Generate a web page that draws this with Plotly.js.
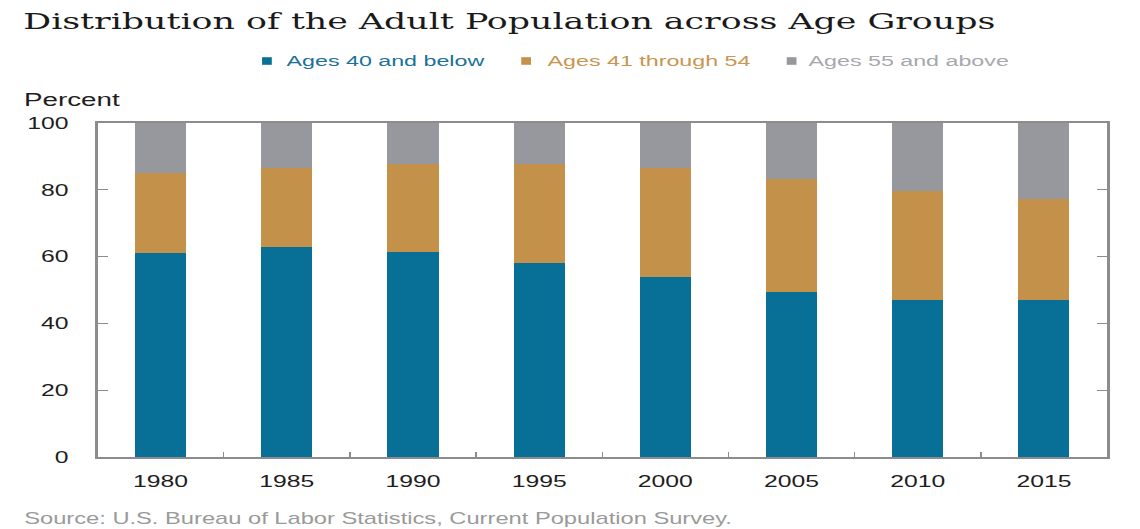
<!DOCTYPE html>
<html>
<head>
<meta charset="utf-8">
<script src="https://cdn.plot.ly/plotly-3.0.1.min.js"></script>
<style>
  html, body { margin: 0; padding: 0; background: #ffffff; overflow: hidden; }
  #wrap { width: 1140px; height: 529px; overflow: hidden; position: relative; background: #ffffff; }
  #chart { width: 760px; height: 529px; transform: scaleX(1.5); transform-origin: 0 0; }
</style>
</head>
<body>
<div id="wrap"><div id="chart"></div></div>
<script>
// ---- data ----
const years = ['1980', '1985', '1990', '1995', '2000', '2005', '2010', '2015'];
const ages40AndBelow = [61.0, 63.0, 61.5, 58.0, 53.8, 49.5, 47.0, 47.0];
const ages41To54 = [23.9, 23.6, 26.2, 29.7, 32.8, 33.7, 32.7, 30.2];
const ages55AndAbove = [15.1, 13.4, 12.3, 12.3, 13.4, 16.8, 20.3, 22.8];
const seriesNames = ['Ages 40 and below', 'Ages 41 through 54', 'Ages 55 and above'];
const yTicks = [0, 20, 40, 60, 80, 100];

// ---- styling ----
const colors = ['#087097', '#c39149', '#97979e'];
const legendTextColors = ['#1b7199', '#c9964f', '#a7a7ae'];
const FONT = '"Liberation Sans", Arial, Helvetica, sans-serif';
const W = 760, H = 529;
const M = {l: 65, r: 22, t: 123, b: 72};
const plotW = W - M.l - M.r, plotH = H - M.t - M.b;
const px2x = p => (p - M.l) / plotW;
const px2y = p => (H - M.b - p) / plotH;

const seriesValues = [ages40AndBelow, ages41To54, ages55AndAbove];
const traces = seriesValues.map((vals, i) => ({
  type: 'bar',
  x: years,
  y: vals,
  name: seriesNames[i],
  marker: {color: colors[i], line: {width: 0}},
  hoverinfo: 'x+y+name'
}));

// custom legend (small squares + coloured text)
const legendMarkerX = [174.7, 347.5, 524.5];
const legendTextX = [189.0, 363.0, 537.0];
const legendY = 61;
const shapes = [];
const annotations = [];
seriesNames.forEach((n, i) => {
  shapes.push({
    type: 'rect', xref: 'paper', yref: 'paper',
    x0: px2x(legendMarkerX[i]), x1: px2x(legendMarkerX[i] + 6.5),
    y0: px2y(legendY + 3.8), y1: px2y(legendY - 3.8),
    fillcolor: colors[i], line: {width: 0}
  });
  annotations.push({
    xref: 'paper', yref: 'paper',
    x: px2x(legendTextX[i]), y: px2y(legendY),
    xanchor: 'left', yanchor: 'middle',
    text: n, showarrow: false,
    font: {family: FONT, size: 15.5, color: legendTextColors[i]}
  });
});
annotations.push({
  xref: 'paper', yref: 'paper', x: px2x(14), y: px2y(99),
  xanchor: 'left', yanchor: 'middle', showarrow: false,
  text: 'Percent', font: {family: FONT, size: 18.5, color: '#1e1e1e'}
});
annotations.push({
  xref: 'paper', yref: 'paper', x: px2x(13.5), y: px2y(518),
  xanchor: 'left', yanchor: 'middle', showarrow: false,
  text: 'Source: U.S. Bureau of Labor Statistics, Current Population Survey.',
  font: {family: FONT, size: 15.8, color: '#9a9a9a'}
});

const layout = {
  width: W, height: H,
  margin: M,
  paper_bgcolor: '#ffffff',
  plot_bgcolor: '#ffffff',
  barmode: 'stack',
  bargap: 0.595,
  showlegend: false,
  title: {
    text: 'Distribution of the Adult Population across Age Groups',
    x: 15.5 / W, xanchor: 'left', xref: 'container',
    y: 1 - 21 / H, yanchor: 'middle', yref: 'container',
    font: {family: '"DejaVu Serif", "Liberation Serif", serif', size: 23.2, color: '#1a1a1a'}
  },
  xaxis: {
    type: 'category',
    showline: true, linecolor: '#8c8c8c', linewidth: 2, mirror: true,
    ticks: 'inside', tickson: 'boundaries', ticklen: 5, tickcolor: '#8c8c8c', tickwidth: 1.3,
    showgrid: false, zeroline: false,
    ticklabelstandoff: 8,
    tickfont: {family: FONT, size: 16.5, color: '#1e1e1e'}
  },
  yaxis: {
    range: [0, 100],
    tickvals: yTicks,
    showline: true, linecolor: '#8c8c8c', linewidth: 2, mirror: 'ticks',
    ticks: 'inside', ticklen: 7, tickcolor: '#8c8c8c', tickwidth: 1.3,
    showgrid: false, zeroline: false,
    ticklabelstandoff: 14,
    tickfont: {family: FONT, size: 16.5, color: '#1e1e1e'}
  },
  shapes: shapes,
  annotations: annotations
};

Plotly.newPlot('chart', traces, layout, {displayModeBar: false, responsive: false});
</script>
</body>
</html>
